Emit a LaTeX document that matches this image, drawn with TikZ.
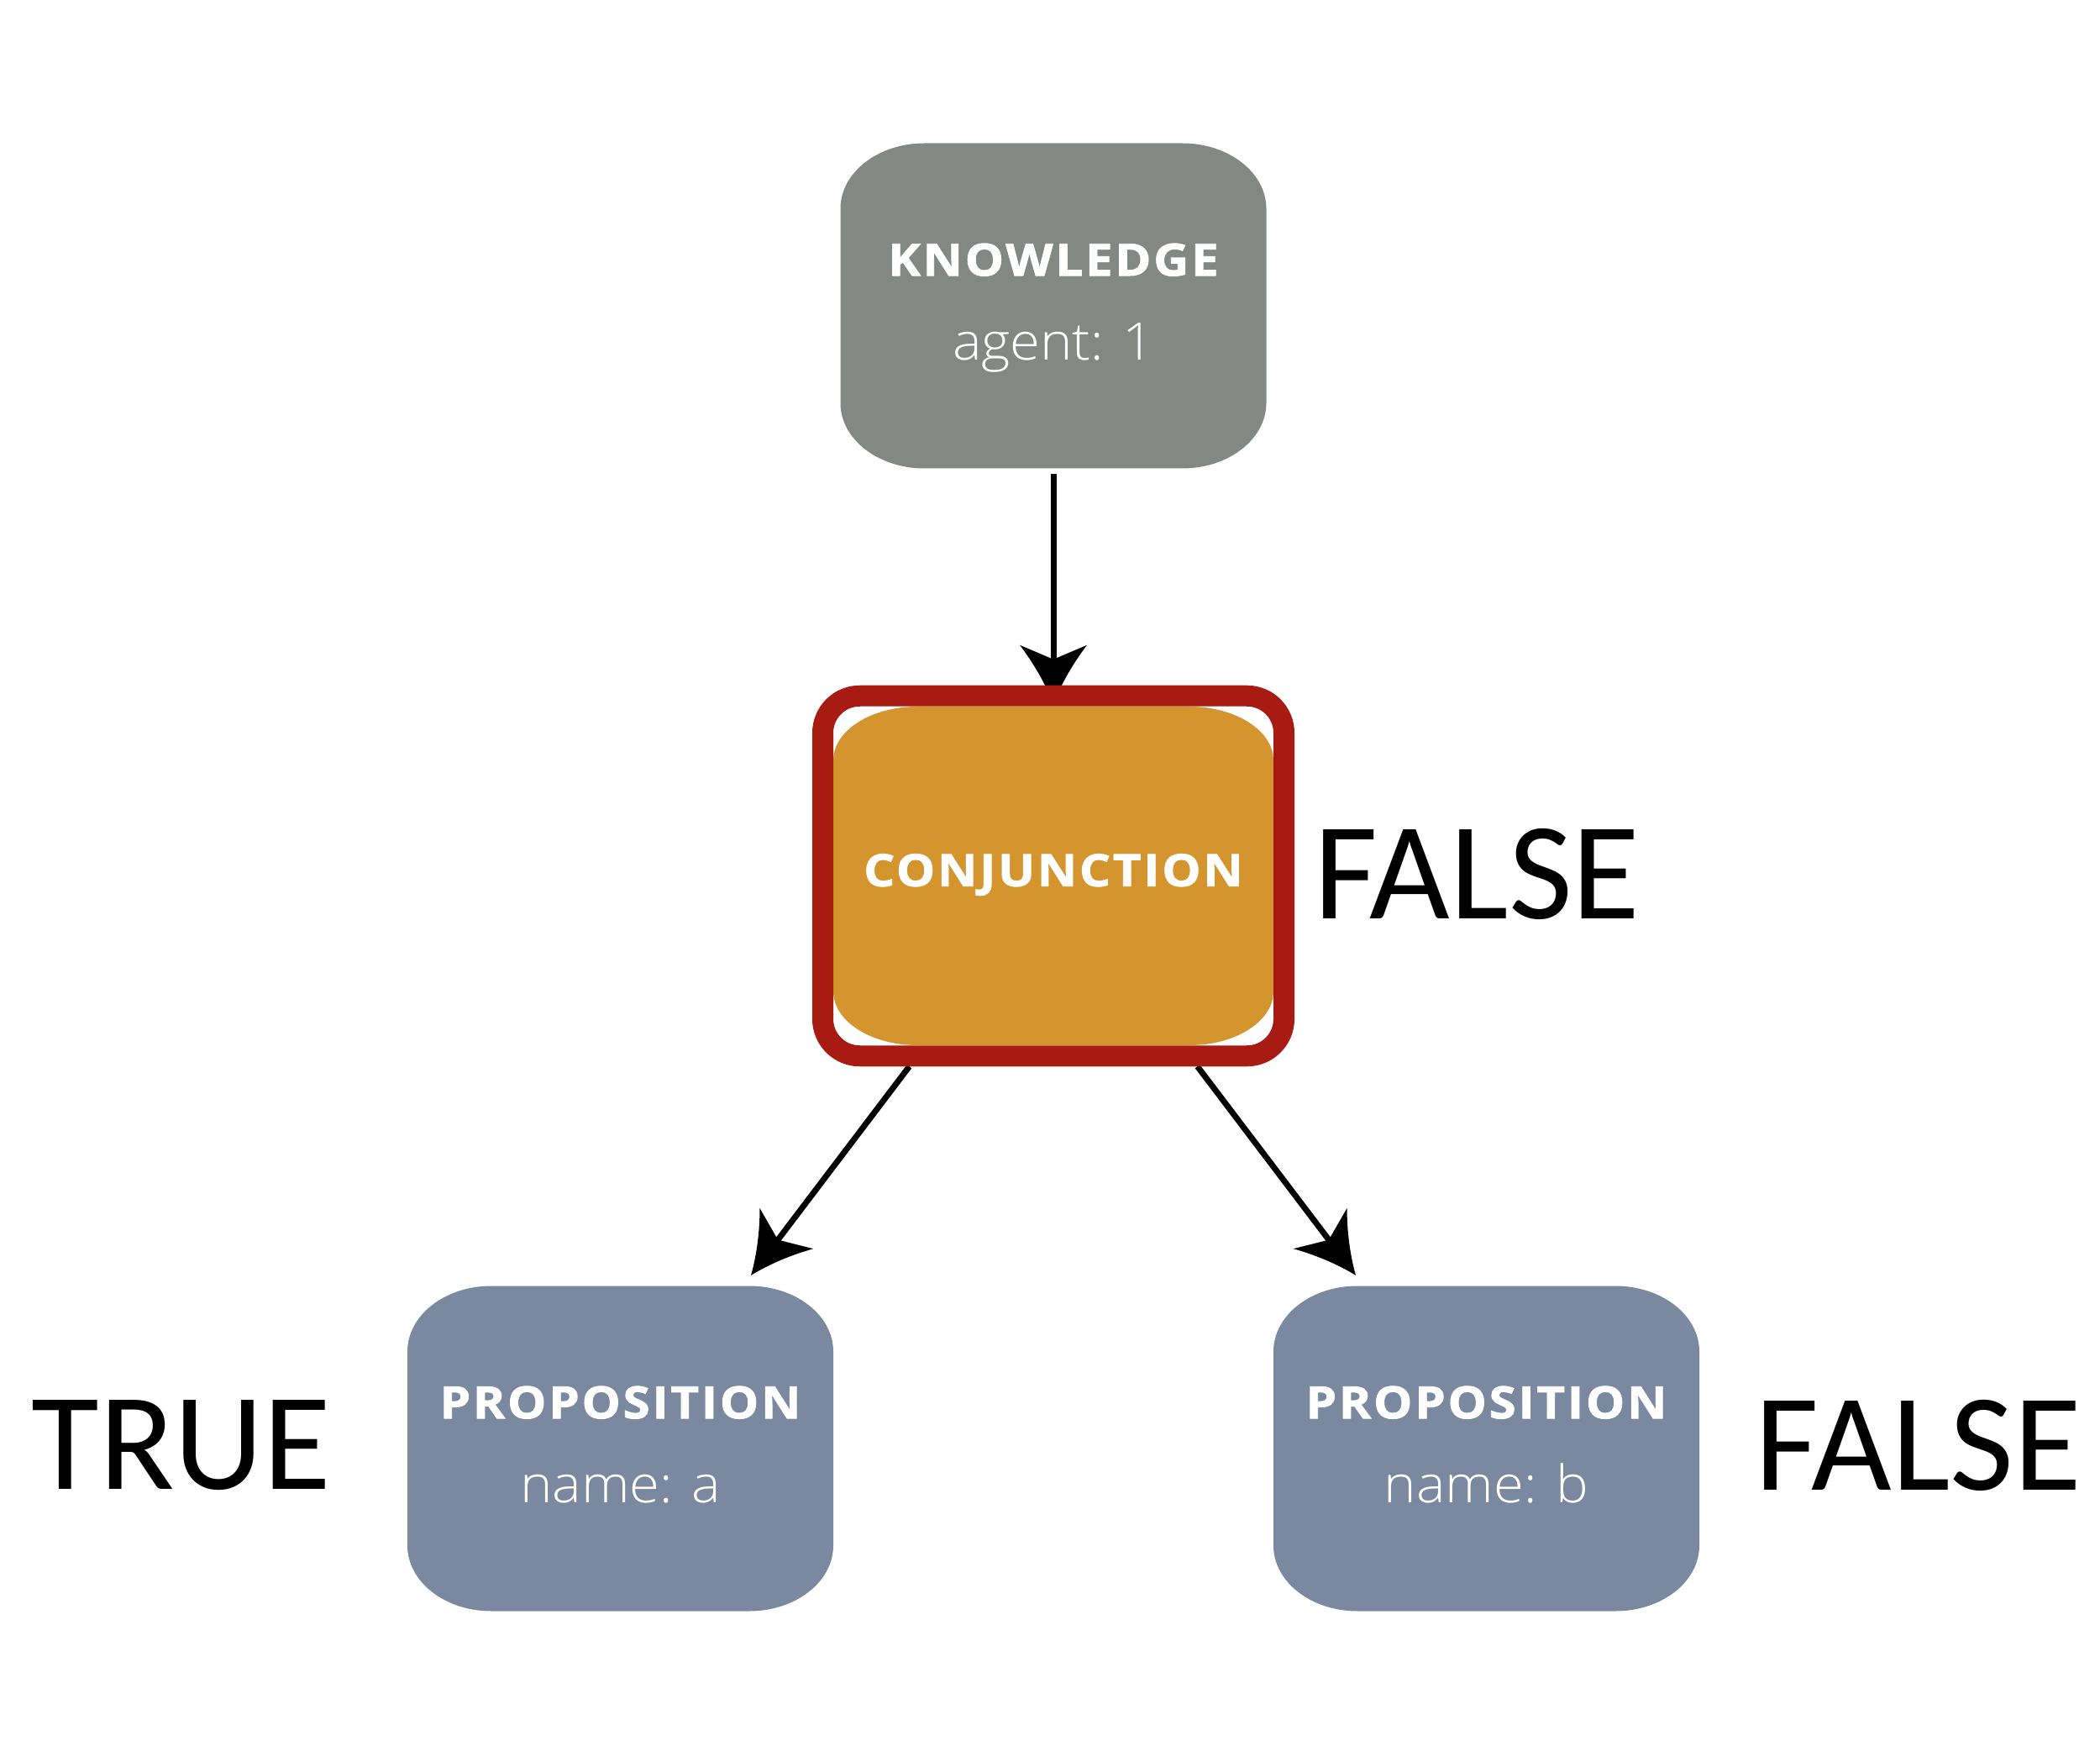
\documentclass[tikz,border=0pt]{standalone}
\usepackage{fontspec}
\usepackage{xcolor}
\usepackage{tikz}
\usetikzlibrary{arrows.meta,backgrounds}
\newfontfamily\headfont[LetterSpace=5, FakeStretch=1.1, FakeBold=1.5]{Open Sans}
\newfontfamily\thinfont[FakeStretch=1.06]{Open Sans Light}
\newfontfamily\verdictfont{Carlito}
\definecolor{stone}{HTML}{838885}
\definecolor{amber}{HTML}{D4952F}
\definecolor{slate}{HTML}{7A88A0}
\definecolor{brick}{HTML}{A81B13}
\newcommand{\headline}[1]{{\headfont\bfseries\fontsize{15.1}{28.5}\selectfont #1}}
% arrow head with hollowed sides
\pgfdeclarearrow{
  name = Flare,
  parameters = {\the\pgfarrowlength,\the\pgfarrowwidth,\the\pgfarrowinset},
  setup code = {
    \pgfarrowssettipend{0pt}
    \pgfarrowssetbackend{-\pgfarrowlength}
    \pgfarrowssetlineend{-0.6\pgfarrowlength}
    \pgfarrowssavethe\pgfarrowlength
    \pgfarrowssavethe\pgfarrowwidth
    \pgfarrowssavethe\pgfarrowinset
  },
  drawing code = {
    \pgfpathmoveto{\pgfpointorigin}
    \pgfpathcurveto{\pgfpoint{-0.35\pgfarrowlength}{0.12\pgfarrowwidth}}
      {\pgfpoint{-0.7\pgfarrowlength}{0.3\pgfarrowwidth}}
      {\pgfpoint{-\pgfarrowlength}{0.5\pgfarrowwidth}}
    \pgfpathlineto{\pgfpointadd{\pgfpoint{-\pgfarrowlength}{0pt}}{\pgfpoint{\pgfarrowinset}{0pt}}}
    \pgfpathlineto{\pgfpoint{-\pgfarrowlength}{-0.5\pgfarrowwidth}}
    \pgfpathcurveto{\pgfpoint{-0.7\pgfarrowlength}{-0.3\pgfarrowwidth}}
      {\pgfpoint{-0.35\pgfarrowlength}{-0.12\pgfarrowwidth}}
      {\pgfpointorigin}
    \pgfpathclose
    \pgfusepathqfill
  },
  defaults = {length=0.7cm, width=0.8cm, inset=0.17cm}
}
\tikzset{
  card/.style n args={3}{rectangle, inner sep=0pt, text=white, align=center,
    minimum width=5.07cm, minimum height=3.87cm, text depth=0.1cm,
    font=\thinfont\fontsize{17.5}{28.5}\selectfont,
    path picture={
      \fill[#1]
        ([xshift=#2]path picture bounding box.south west)
        -- ([xshift=-#2]path picture bounding box.south east)
        arc[start angle=-90, end angle=0, x radius=#2, y radius=#3]
        -- ([yshift=-#3]path picture bounding box.north east)
        arc[start angle=0, end angle=90, x radius=#2, y radius=#3]
        -- ([xshift=#2]path picture bounding box.north west)
        arc[start angle=90, end angle=180, x radius=#2, y radius=#3]
        -- ([yshift=#3]path picture bounding box.south west)
        arc[start angle=180, end angle=270, x radius=#2, y radius=#3]
        -- cycle;
    }},
  frame/.style={rectangle, draw=brick, line width=0.25cm, rounded corners=0.44cm,
    minimum width=5.49cm, minimum height=4.285cm},
  link/.style={-{Flare}, draw=black, line width=0.07cm},
  verdict/.style={inner sep=0pt, font=\verdictfont\fontsize{47}{50}\selectfont}
}
\begin{document}
\begin{tikzpicture}
  \useasboundingbox (0,0) rectangle (25,20.83);

  % nodes
  \node[card={stone}{1.0cm}{0.78cm}] (know) at (12.54,17.19)
    {\headline{KNOWLEDGE}\\agent: 1};
  \node[card={amber}{1.0cm}{0.64cm}, minimum width=5.24cm, minimum height=4.03cm,
    text depth=0.14cm] (conjfill) at (12.54,10.405) {\headline{CONJUNCTION}};
  \node[frame] (conj) at (12.54,10.405) {};
  \node[card={slate}{1.0cm}{0.78cm}] (propa) at (7.385,3.59)
    {\headline{PROPOSITION}\\name: a};
  \node[card={slate}{1.0cm}{0.78cm}] (propb) at (17.695,3.59)
    {\headline{PROPOSITION}\\name: b};

  % truth values
  \node[verdict] (valconj) at (17.585,10.43) {FALSE};
  \node[verdict] (vala) at (2.16,3.63) {TRUE};
  \node[verdict] (valb) at (22.84,3.63) {FALSE};

  % edges, under the red frame
  \begin{scope}[on background layer]
    \draw[link, shorten <=0.06cm, shorten >=-0.22cm] (know) -- (conj);
    \draw[link, shorten >=0.15cm] (conj) -- (propa);
    \draw[link, shorten >=0.15cm] (conj) -- (propb);
  \end{scope}
\end{tikzpicture}
\end{document}
